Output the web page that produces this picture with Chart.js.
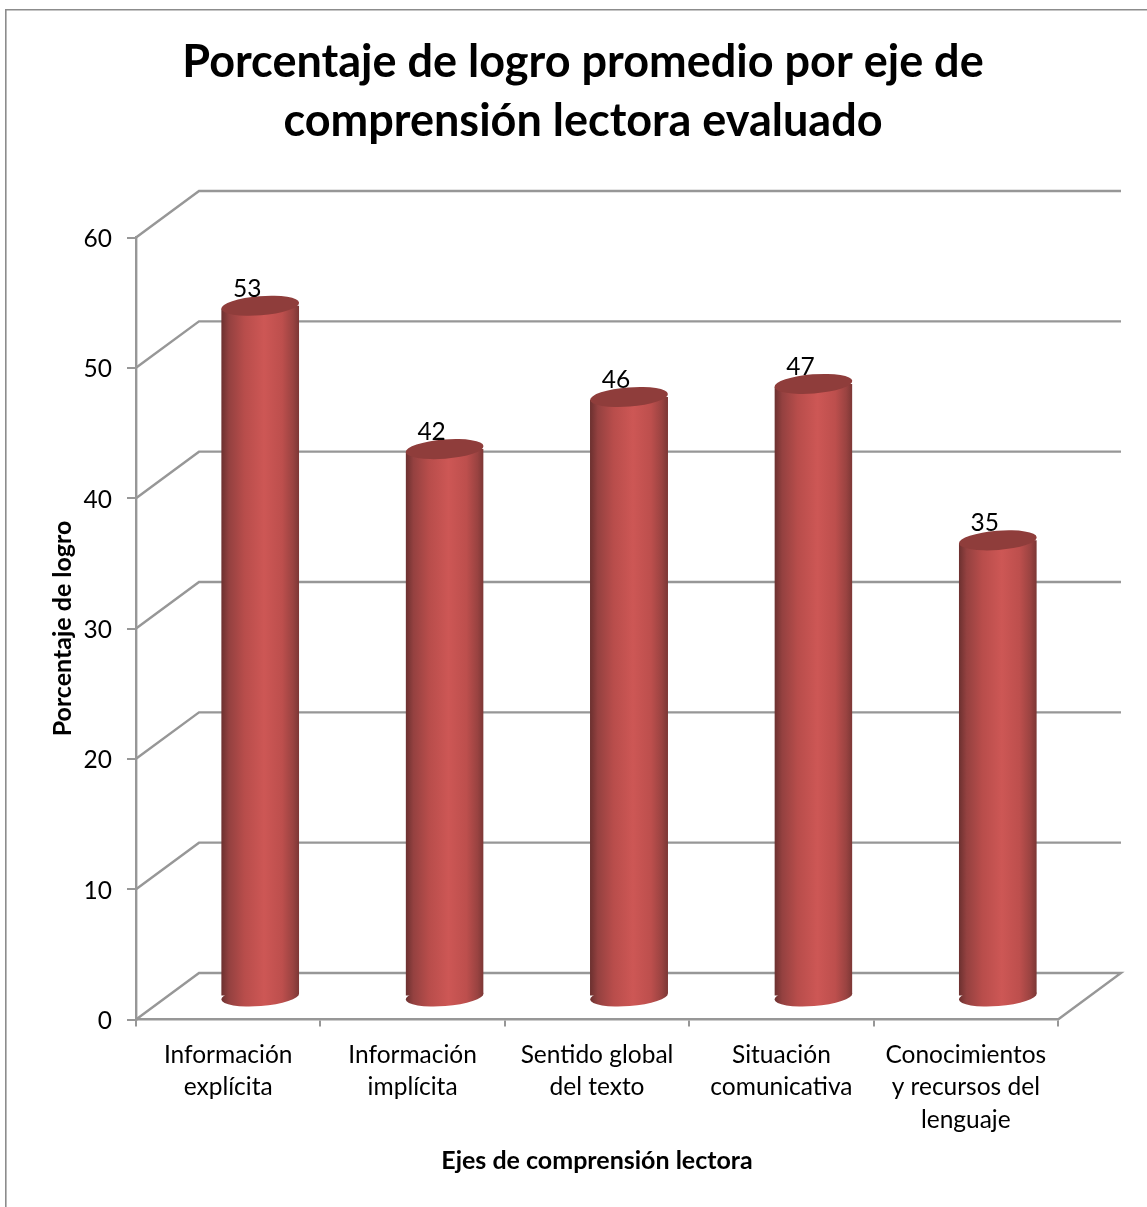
<!DOCTYPE html>
<html lang="es">
<head>
<meta charset="utf-8">
<title>Porcentaje de logro</title>
<style>html,body{margin:0;padding:0;background:#fff}canvas{display:block}</style>
<script src="https://cdn.jsdelivr.net/npm/chart.js@4/dist/chart.umd.js"></script>
</head>
<body>
<canvas id="c" width="1147" height="1207"></canvas>
<script>
const categories = [
  ["Información", "explícita"],
  ["Información", "implícita"],
  ["Sentido global", "del texto"],
  ["Situación", "comunicativa"],
  ["Conocimientos", "y recursos del", "lenguaje"]
];
const logro = [53, 42, 46, 47, 35];
const titleLines = ["Porcentaje de logro promedio por eje de", "comprensión lectora evaluado"];
const yTitle = "Porcentaje de logro";
const xTitle = "Ejes de comprensión lectora";

const FONT = "Lato, Carlito, Calibri, sans-serif";
const TICK_SIZE = 24.5;
const GRID = "#979797";
const DEPTH_X = 63, DEPTH_Y = 46.5;          // depth of the 3D floor
const BAR_DX = 32, BAR_DY = -23;             // bars stand mid-depth
const RX = 39, RY = 9.6, TILT = -4.5 * Math.PI / 180;
const SLOPE = Math.sin(-TILT) * RX;

function barGradient(c, x) {
  const g = c.createLinearGradient(x - RX, 0, x + RX, 0);
  g.addColorStop(0, "#6b302f");
  g.addColorStop(0.1, "#944140");
  g.addColorStop(0.3, "#b84d4b");
  g.addColorStop(0.55, "#cd5755");
  g.addColorStop(0.78, "#bd4f4d");
  g.addColorStop(0.92, "#9a4341");
  g.addColorStop(1, "#7b3735");
  return g;
}

const scene3d = {
  id: "scene3d",
  afterLayout(chart) {
    chart.titleBlock.left = 6;
    chart.titleBlock.right = 1160;
    // nudge the value-axis labels down to sit on the reference's text centres
    const s = chart.scales.y, orig = s.getLabelItems.bind(s);
    s.getLabelItems = area => orig(area).map(it => ({
      ...it,
      options: { ...it.options, translation: [it.options.translation[0], it.options.translation[1] + 1.5] }
    }));
  },
  beforeDraw(chart) {
    const c = chart.ctx;
    c.save();
    c.fillStyle = "#fff";
    c.fillRect(0, 0, chart.width, chart.height);
    c.strokeStyle = "#8c8c8c";
    c.lineWidth = 1.6;
    c.beginPath();
    c.moveTo(5.8, chart.height);
    c.lineTo(5.8, 9.8);
    c.lineTo(chart.width, 9.8);
    c.stroke();
    c.restore();
  },
  beforeDatasetsDraw(chart) {
    const c = chart.ctx, { x, y } = chart.scales;
    const a = chart.chartArea;
    c.save();
    c.strokeStyle = GRID;
    c.lineWidth = 2.4;
    c.lineJoin = "miter";
    y.ticks.forEach(t => {
      const py = y.getPixelForValue(t.value);
      c.beginPath();
      c.moveTo(a.left, py);
      c.lineTo(a.left + DEPTH_X, py - DEPTH_Y);
      c.lineTo(a.right + DEPTH_X, py - DEPTH_Y);
      if (t.value === 0) c.lineTo(a.right, py);
      c.stroke();
    });
    c.restore();
    // bars stand mid-depth; clip to cylinder silhouette
    const meta = chart.getDatasetMeta(0);
    c.save();
    c.translate(BAR_DX, BAR_DY);
    c.beginPath();
    meta.data.forEach(b => {
      const base = y.getPixelForValue(0);
      c.moveTo(b.x - RX, b.y + SLOPE);
      c.lineTo(b.x + RX, b.y - SLOPE);
      c.lineTo(b.x + RX, base - SLOPE);
      c.lineTo(b.x - RX, base + SLOPE);
      c.closePath();
    });
    c.clip();
  },
  afterDatasetsDraw(chart) {
    const c = chart.ctx, y = chart.scales.y;
    c.restore();
    const meta = chart.getDatasetMeta(0);
    c.save();
    c.translate(BAR_DX, BAR_DY);
    meta.data.forEach(b => {
      const base = y.getPixelForValue(0);
      c.fillStyle = barGradient(c, b.x);
      c.beginPath();
      c.ellipse(b.x, base, RX, RY, TILT, 0, Math.PI * 2);
      c.fill();
      c.fillStyle = "#8f3d3b";
      c.beginPath();
      c.ellipse(b.x, b.y, RX, RY, TILT, 0, Math.PI * 2);
      c.fill();
    });
    c.restore();
    c.save();
    c.fillStyle = "#000";
    c.font = TICK_SIZE + "px " + FONT;
    c.textAlign = "center";
    c.textBaseline = "middle";
    meta.data.forEach((b, i) => {
      c.fillText(String(logro[i]), b.x + BAR_DX - 13, b.y + BAR_DY - 17);
    });
    c.restore();
  }
};

new Chart(document.getElementById("c"), {
  type: "bar",
  data: {
    labels: categories,
    datasets: [{
      label: yTitle,
      data: logro,
      borderWidth: 0,
      categoryPercentage: 0.4228,
      barPercentage: 1,
      backgroundColor: ctx => {
        const s = ctx.chart.scales.x;
        const px = s && ctx.dataIndex !== undefined ? s.getPixelForValue(ctx.dataIndex) : NaN;
        if (!Number.isFinite(px)) return "#c0504d";
        return barGradient(ctx.chart.ctx, px);
      }
    }]
  },
  plugins: [scene3d],
  options: {
    responsive: false,
    animation: false,
    events: [],
    layout: { padding: { left: 19, right: 89, top: 0, bottom: 0 } },
    plugins: {
      legend: { display: false },
      tooltip: { enabled: false },
      title: {
        display: true,
        text: titleLines,
        color: "#000",
        font: { family: FONT, size: 45, weight: "bold", lineHeight: 59 / 45 },
        padding: { top: 32.5, bottom: 87 }
      }
    },
    scales: {
      x: {
        offset: true,
        afterFit: s => { s.height = 187.5; },
        grid: { drawOnChartArea: false, drawTicks: true, tickLength: 7, color: GRID, lineWidth: 2 },
        border: { display: true, color: GRID, width: 2.4 },
        ticks: {
          color: "#000",
          maxRotation: 0,
          autoSkip: false,
          padding: 12,
          font: { family: FONT, size: TICK_SIZE, lineHeight: 32.5 / TICK_SIZE }
        },
        title: {
          display: true,
          text: xTitle,
          color: "#000",
          font: { family: FONT, size: 25, weight: "bold", lineHeight: 1.2 },
          padding: { top: 4, bottom: 31 }
        }
      },
      y: {
        min: 0,
        max: 60,
        afterFit: s => { s.width = 117; },
        grid: { drawOnChartArea: false, drawTicks: true, tickLength: 9, color: GRID, lineWidth: 2 },
        border: { display: true, color: GRID, width: 2.4 },
        ticks: {
          stepSize: 10,
          color: "#000",
          padding: 15,
          font: { family: FONT, size: TICK_SIZE }
        },
        title: {
          display: true,
          text: yTitle,
          color: "#000",
          font: { family: FONT, size: 25, weight: "bold", lineHeight: 1.2 },
          padding: { top: 29, bottom: 4 }
        }
      }
    }
  }
});
</script>
</body>
</html>
